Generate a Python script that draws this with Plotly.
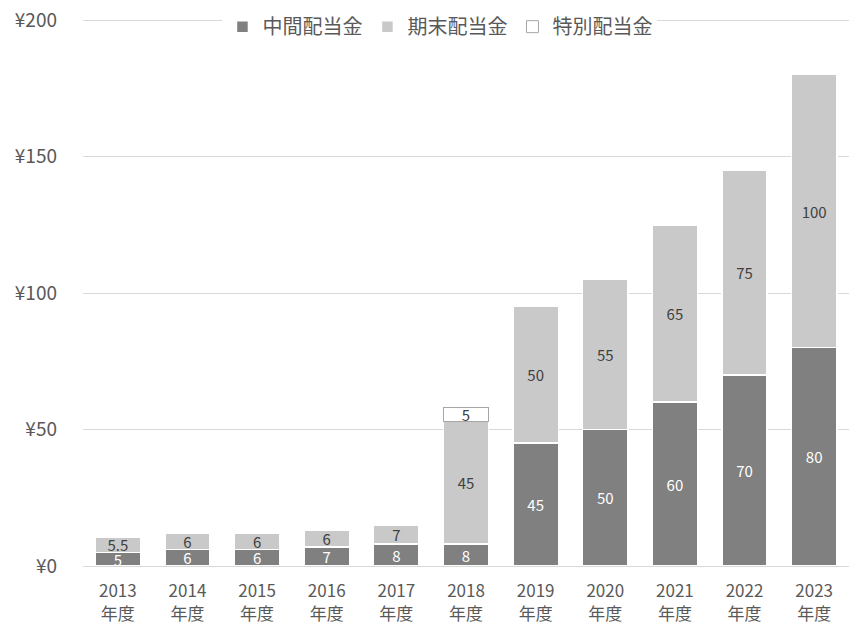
import plotly.graph_objects as go

years = ["2013<br>年度", "2014<br>年度", "2015<br>年度", "2016<br>年度", "2017<br>年度", "2018<br>年度",
         "2019<br>年度", "2020<br>年度", "2021<br>年度", "2022<br>年度", "2023<br>年度"]
interim = [5, 6, 6, 7, 8, 8, 45, 50, 60, 70, 80]
year_end = [5.5, 6, 6, 6, 7, 45, 50, 55, 65, 75, 100]
special = [0, 0, 0, 0, 0, 5, 0, 0, 0, 0, 0]
tick_vals = [0, 50, 100, 150, 200]
tick_text = ["¥0", "¥50", "¥100", "¥150", "¥200"]

FONT = "Noto Sans CJK JP"

special_vals = [v if v else None for v in special]

fig = go.Figure()
fig.add_trace(go.Bar(
    name="中間配当金", x=years, y=interim, text=[str(v) for v in interim],
    marker=dict(color="#808080", line=dict(color="white", width=1.5)),
    textposition="inside", insidetextanchor="middle", textangle=0,
    textfont=dict(color="white", size=15, family=FONT),
))
fig.add_trace(go.Bar(
    name="期末配当金", x=years, y=year_end, text=[str(v) for v in year_end],
    marker=dict(color="#c9c9c9", line=dict(color="white", width=1.5)),
    textposition="inside", insidetextanchor="middle", textangle=0,
    textfont=dict(color="#404040", size=15, family=FONT),
))
fig.add_trace(go.Bar(
    name="特別配当金", x=years, y=special_vals,
    text=[str(v) if v else "" for v in special],
    marker=dict(color="white", line=dict(color="#a6a6a6", width=1)),
    textposition="inside", insidetextanchor="middle", textangle=0,
    textfont=dict(color="#404040", size=15, family=FONT),
))

# The page body has an 8px default margin, so the figure is shifted by 8px;
# size and margins compensate for that.
fig.update_layout(
    barmode="stack",
    bargap=0.35,
    width=850, height=629,
    margin=dict(l=75, r=9, t=11, b=71, autoexpand=False),
    paper_bgcolor="white", plot_bgcolor="white",
    font=dict(family=FONT, color="#595959"),
    uniformtext=dict(minsize=15, mode="show"),
    showlegend=True,
    legend=dict(
        orientation="h", x=0.466, xanchor="center", y=0.986, yanchor="middle",
        bgcolor="white", font=dict(size=20, color="#595959", family=FONT),
        traceorder="normal", itemwidth=30,
    ),
    xaxis=dict(
        showgrid=False, showline=True, linecolor="#d9d9d9", linewidth=1,
        ticks="", tickfont=dict(size=17, color="#595959"),
        ticklabelstandoff=10,
    ),
    yaxis=dict(
        range=[0, 200.4], tickmode="array", tickvals=tick_vals, ticktext=tick_text,
        showgrid=True, gridcolor="#d9d9d9", gridwidth=1,
        zeroline=False, showline=False, ticks="",
        tickfont=dict(size=19, color="#595959"), ticklabelstandoff=25,
        ticklabeloverflow="allow",
    ),
)

fig.write_html("out.html")
